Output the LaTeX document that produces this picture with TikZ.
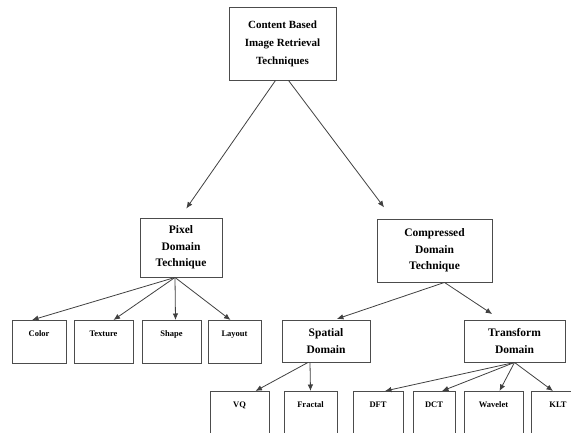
\documentclass[tikz,border=0pt]{standalone}
\usepackage{fontspec}
\setmainfont{Liberation Serif}
\usepackage{tikz}
\usetikzlibrary{arrows.meta, positioning}

\tikzset{
    box/.style={draw=black!70, line width=0.9pt, align=center, inner sep=0pt, font=\bfseries},
    leaf/.style={box, font=\bfseries\fontsize{8.5}{10}\selectfont, text height=16pt, text depth=27pt},
    arr/.style={draw=black!75, line width=0.8pt, -{Latex[length=6.5pt,width=5.5pt]}}
}

\begin{document}
\begin{tikzpicture}[x=1pt, y=-1pt]
    \useasboundingbox (0,0) rectangle (571,433);
    \clip (0,0) rectangle (571,433);

    % Root
    \node[box, minimum width=107pt, minimum height=73pt, font=\bfseries\fontsize{11}{18}\selectfont] (cbir) at (282.5,43.5)
        {Content Based\\Image Retrieval\\Techniques};

    % Second level
    \node[box, minimum width=82pt, minimum height=59pt, font=\bfseries\fontsize{11.5}{16.5}\selectfont] (pixel) at (181,247.5)
        {Pixel\\Domain\\Technique};
    \node[box, minimum width=115pt, minimum height=63pt, font=\bfseries\fontsize{11.5}{16.5}\selectfont] (compressed) at (434.5,250.5)
        {Compressed\\Domain\\Technique};

    % Pixel domain features
    \node[leaf, minimum width=54pt, anchor=north] (color) at (39,320) {Color};
    \node[leaf, minimum width=59pt, anchor=north] (texture) at (103.5,320) {Texture};
    \node[leaf, minimum width=59pt, anchor=north] (shape) at (171.5,320) {Shape};
    \node[leaf, minimum width=53pt, anchor=north] (layout) at (234.5,320) {Layout};

    % Compressed domain branches
    \node[box, minimum width=88pt, minimum height=42pt, font=\bfseries\fontsize{11.5}{16.5}\selectfont] (spatial) at (326,341)
        {Spatial\\Domain};
    \node[box, minimum width=101pt, minimum height=42pt, font=\bfseries\fontsize{11.5}{16.5}\selectfont] (transform) at (514.5,341)
        {Transform\\Domain};

    % Third level leaves
    \node[leaf, minimum width=59pt, anchor=north] (vq) at (239.5,391) {VQ};
    \node[leaf, minimum width=53pt, anchor=north] (fractal) at (310.5,391) {Fractal};
    \node[leaf, minimum width=50pt, anchor=north] (dft) at (378,391) {DFT};
    \node[leaf, minimum width=42pt, anchor=north] (dct) at (434,391) {DCT};
    \node[leaf, minimum width=59pt, anchor=north] (wavelet) at (493.5,391) {Wavelet};
    \node[leaf, minimum width=53pt, anchor=north] (klt) at (558,391) {KLT};

    % Connectors
    \draw[arr, shorten >=11pt] ([xshift=-7pt]cbir.south) -- ([xshift=-1pt]pixel.north);
    \draw[arr, shorten >=14pt] ([xshift=6pt]cbir.south) -- ([xshift=-42pt]compressed.north);

    \draw[arr] ([xshift=-6pt]pixel.south) -- ([xshift=-7pt]color.north);
    \draw[arr] ([xshift=-6pt]pixel.south) -- ([xshift=10pt]texture.north);
    \draw[arr] ([xshift=-6pt]pixel.south) -- ([xshift=4pt]shape.north);
    \draw[arr] ([xshift=-6pt]pixel.south) -- ([xshift=-4pt]layout.north);

    \draw[arr, shorten >=2pt] ([xshift=10pt]compressed.south) -- ([xshift=9pt]spatial.north);
    \draw[arr, shorten >=10pt] ([xshift=10pt]compressed.south) -- ([xshift=-14pt]transform.north);

    \draw[arr] ([xshift=-18pt]spatial.south) -- ([xshift=16pt]vq.north);
    \draw[arr] ([xshift=-16pt]spatial.south) -- (fractal.north);

    \draw[arr] (transform.south) -- ([xshift=7pt]dft.north);
    \draw[arr] (transform.south) -- ([xshift=8pt]dct.north);
    \draw[arr] (transform.south) -- ([xshift=6pt]wavelet.north);
    \draw[arr] (transform.south) -- ([xshift=-5pt]klt.north);
\end{tikzpicture}
\end{document}
